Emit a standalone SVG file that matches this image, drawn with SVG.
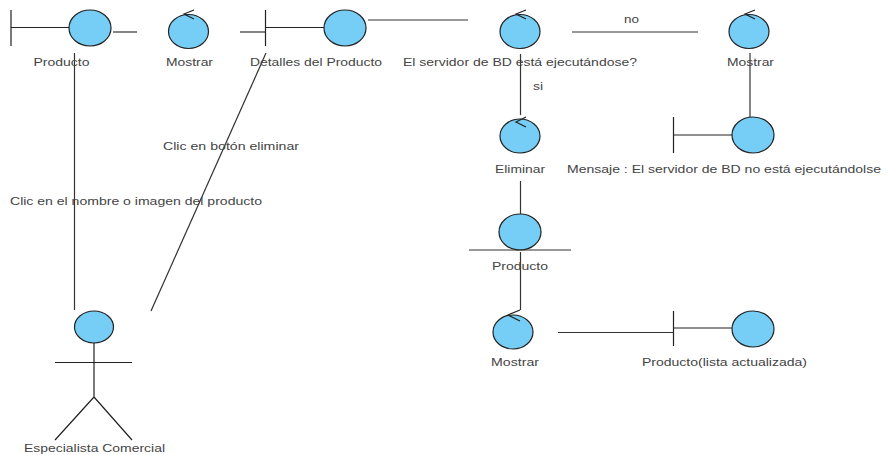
<svg xmlns="http://www.w3.org/2000/svg" width="888" height="455" viewBox="0 0 888 455">
<defs>
<style>
.s{fill:#76cdf5;stroke:#222;stroke-width:1.2}
.l{fill:none;stroke:#222;stroke-width:1.2}
.c{fill:none;stroke:#333;stroke-width:1.2}
text{font-family:"Liberation Sans",Arial,sans-serif;font-size:11.500px;fill:#444}
</style>
</defs>
<rect width="888" height="455" fill="#fff"/>
<g id="connectors">
<path class="c" d="M113 32H137"/>
<path class="c" d="M240 32H265"/>
<path class="c" d="M368 20H468"/>
<path class="c" d="M572 32H698"/>
<path class="c" d="M520.500 54V115"/>
<path class="c" d="M750 53V117"/>
<path class="c" d="M520.500 181V214"/>
<path class="c" d="M520.500 252V310"/>
<path class="c" d="M558 332.500H673"/>
<path class="c" d="M74.500 53V310"/>
<path class="c" d="M266 53L151 311"/>
<text x="624" y="23" textLength="15" lengthAdjust="spacingAndGlyphs">no</text>
<text x="533" y="90" textLength="10" lengthAdjust="spacingAndGlyphs">si</text>
<text x="163" y="150" textLength="136" lengthAdjust="spacingAndGlyphs">Clic en botón eliminar</text>
<text x="10" y="205" textLength="252" lengthAdjust="spacingAndGlyphs">Clic en el nombre o imagen del producto</text>
</g>
<g id="producto-boundary">
<path class="l" d="M11 10V46M11 27.500H69"/>
<ellipse class="s" cx="90" cy="28" rx="21" ry="18"/>
<text x="33.500" y="66" textLength="56" lengthAdjust="spacingAndGlyphs">Producto</text>
</g>
<g id="mostrar-1">
<ellipse class="s" cx="188.500" cy="31.500" rx="20" ry="17"/>
<path class="l" d="M194 10L184 14L194 19"/>
<text x="166" y="66" textLength="47" lengthAdjust="spacingAndGlyphs">Mostrar</text>
</g>
<g id="detalles-producto">
<path class="l" d="M265.500 10V46M265.500 27.500H324"/>
<ellipse class="s" cx="345" cy="28" rx="21" ry="18"/>
<text x="250" y="66" textLength="132" lengthAdjust="spacingAndGlyphs">Detalles del Producto</text>
</g>
<g id="servidor-bd">
<ellipse class="s" cx="520" cy="31.500" rx="20" ry="17"/>
<path class="l" d="M526 10L516 14L526 19"/>
<text x="403" y="66" textLength="234" lengthAdjust="spacingAndGlyphs">El servidor de BD está ejecutándose?</text>
</g>
<g id="mostrar-2">
<ellipse class="s" cx="749" cy="31.500" rx="20" ry="17"/>
<path class="l" d="M755 10L745 14L755 19"/>
<text x="727" y="66" textLength="47" lengthAdjust="spacingAndGlyphs">Mostrar</text>
</g>
<g id="eliminar">
<ellipse class="s" cx="520" cy="136" rx="20" ry="17"/>
<path class="l" d="M526 117L516 122L526 127"/>
<text x="495" y="173" textLength="50" lengthAdjust="spacingAndGlyphs">Eliminar</text>
</g>
<g id="mensaje">
<path class="l" d="M673.500 117V153M673.500 135H732"/>
<ellipse class="s" cx="753" cy="135" rx="21" ry="18"/>
<text x="567" y="173" textLength="314" lengthAdjust="spacingAndGlyphs">Mensaje : El servidor de BD no está ejecutándolse</text>
</g>
<g id="producto-entity">
<ellipse class="s" cx="520" cy="232" rx="21" ry="18"/>
<path class="c" d="M469 250H571"/>
<text x="492" y="270" textLength="56" lengthAdjust="spacingAndGlyphs">Producto</text>
</g>
<g id="mostrar-3">
<ellipse class="s" cx="513" cy="332" rx="20" ry="17"/>
<path class="l" d="M520 310L508 315L520 321"/>
<text x="491" y="366" textLength="48" lengthAdjust="spacingAndGlyphs">Mostrar</text>
</g>
<g id="producto-lista">
<path class="l" d="M673.500 311V346M673.500 328H732"/>
<ellipse class="s" cx="753" cy="329" rx="21" ry="18"/>
<text x="642" y="366" textLength="165" lengthAdjust="spacingAndGlyphs">Producto(lista actualizada)</text>
</g>
<g id="especialista-comercial">
<ellipse class="s" cx="94" cy="327" rx="19.500" ry="16"/>
<path class="l" d="M94 343V397M55 362.500H132M55 440L94 397L132 440"/>
<text x="24" y="452" textLength="141" lengthAdjust="spacingAndGlyphs">Especialista Comercial</text>
</g>
</svg>
